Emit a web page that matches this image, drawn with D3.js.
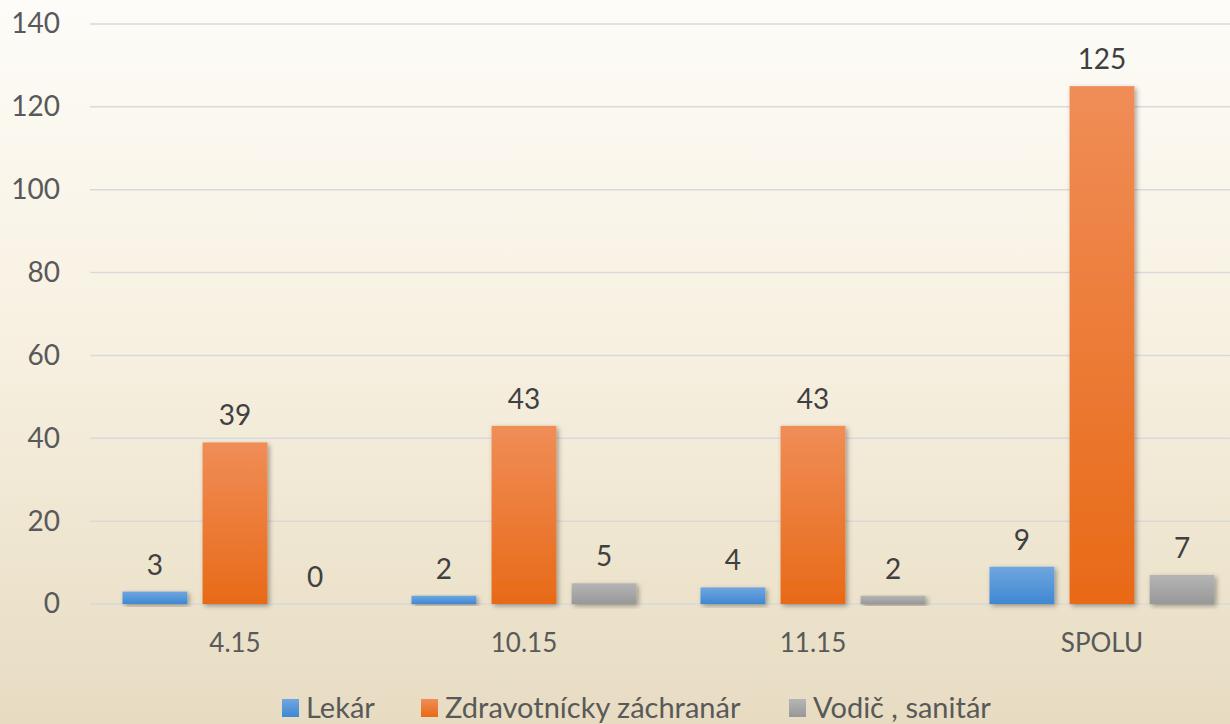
<!DOCTYPE html>
<html>
<head>
<meta charset="utf-8">
<script src="https://cdn.jsdelivr.net/npm/d3@7"></script>
<style>
  html, body { margin: 0; padding: 0; }
  body { width: 1230px; height: 724px; overflow: hidden; }
  text { font-family: Lato, "Open Sans", sans-serif; }
</style>
</head>
<body>
<div id="chart"></div>
<script>
// data
const categories = ["4.15", "10.15", "11.15", "SPOLU"];
const seriesNames = ["Lekár", "Zdravotnícky záchranár", "Vodič , sanitár"];
const lekar = [3, 2, 4, 9];
const zachranar = [39, 43, 43, 125];
const vodic = [0, 5, 2, 7];
const yTicks = [0, 20, 40, 60, 80, 100, 120, 140];

const values = [lekar, zachranar, vodic];
const colors = [
    ["#6fa6df", "#3f88d2"],
    ["#f08d57", "#e86a17"],
    ["#b5b5b5", "#989898"]
];

const width = 1230;
const height = 724;

const svg = d3.select("#chart")
    .append("svg")
    .attr("width", width)
    .attr("height", height);

const defs = svg.append("defs");

// background gradient
const bg = defs.append("linearGradient")
    .attr("id", "bg")
    .attr("x1", 0).attr("y1", 0).attr("x2", 0).attr("y2", 1);
bg.append("stop").attr("offset", "0%").attr("stop-color", "#fdfcf8");
bg.append("stop").attr("offset", "45%").attr("stop-color", "#f8f1e2");
bg.append("stop").attr("offset", "100%").attr("stop-color", "#e7dcc2");

colors.forEach((c, i) => {
    const g = defs.append("linearGradient")
        .attr("id", "bar" + i)
        .attr("x1", 0).attr("y1", 0).attr("x2", 0).attr("y2", 1);
    g.append("stop").attr("offset", "0%").attr("stop-color", c[0]);
    g.append("stop").attr("offset", "100%").attr("stop-color", c[1]);
});

const shadow = defs.append("filter")
    .attr("id", "shadow")
    .attr("x", "-20%").attr("y", "-20%")
    .attr("width", "140%").attr("height", "140%");
shadow.append("feDropShadow")
    .attr("dx", 2).attr("dy", 2)
    .attr("stdDeviation", 2.5)
    .attr("flood-color", "#000")
    .attr("flood-opacity", 0.35);

svg.append("rect")
    .attr("width", width)
    .attr("height", height)
    .attr("fill", "url(#bg)");

const x = d3.scaleBand()
    .domain(categories)
    .range([90.5, 1246.5]);

const xs = d3.scaleBand()
    .domain(d3.range(seriesNames.length))
    .range([x.bandwidth() / 2 - 112.5, x.bandwidth() / 2 + 112.5])
    .paddingInner(0.19)
    .paddingOuter(0);

const y = d3.scaleLinear()
    .domain([0, 140])
    .range([604, 24]);

// gridlines
svg.append("g")
    .selectAll("line")
    .data(yTicks)
    .enter()
    .append("line")
    .attr("x1", 90)
    .attr("x2", width)
    .attr("y1", d => y(d))
    .attr("y2", d => y(d))
    .attr("stroke", "#d9d9d9")
    .attr("stroke-width", 1.5);

// y axis labels
const yAxis = svg.append("g")
    .attr("transform", "translate(60,0)")
    .call(d3.axisLeft(y).tickValues(yTicks).tickSize(0).tickPadding(0));
yAxis.select(".domain").remove();
yAxis.selectAll("text")
    .attr("fill", "#595959")
    .style("font-size", "28px")
    .style("font-family", "Lato, sans-serif");

// bars
const groups = svg.append("g")
    .selectAll("g")
    .data(categories)
    .enter()
    .append("g")
    .attr("transform", d => `translate(${x(d)},0)`);

seriesNames.forEach((s, i) => {
    groups.append("rect")
        .attr("x", xs(i))
        .attr("width", xs.bandwidth())
        .attr("y", (d, j) => y(values[i][j]))
        .attr("height", (d, j) => y(0) - y(values[i][j]))
        .attr("fill", "url(#bar" + i + ")")
        .attr("filter", "url(#shadow)");

    groups.append("text")
        .attr("x", xs(i) + xs.bandwidth() / 2)
        .attr("y", (d, j) => y(values[i][j]) - 17)
        .attr("text-anchor", "middle")
        .attr("fill", "#404040")
        .style("font-size", "28px")
        .text((d, j) => values[i][j]);
});

// x axis labels
const xAxis = svg.append("g")
    .attr("transform", "translate(0,604)")
    .call(d3.axisBottom(x).tickSize(0).tickPadding(30));
xAxis.select(".domain").remove();
xAxis.selectAll("text")
    .attr("fill", "#595959")
    .style("font-size", "26px")
    .style("font-family", "Lato, sans-serif");

// legend
const legendX = [282, 421, 789];
const legend = svg.append("g")
    .selectAll("g")
    .data(seriesNames)
    .enter()
    .append("g")
    .attr("transform", (d, i) => `translate(${legendX[i]},699)`);

legend.append("rect")
    .attr("width", 17)
    .attr("height", 18)
    .attr("fill", (d, i) => "url(#bar" + i + ")");

legend.append("text")
    .attr("x", 24)
    .attr("y", 9)
    .attr("dy", "0.36em")
    .attr("fill", "#595959")
    .style("font-size", "29px")
    .text(d => d);
</script>
</body>
</html>
